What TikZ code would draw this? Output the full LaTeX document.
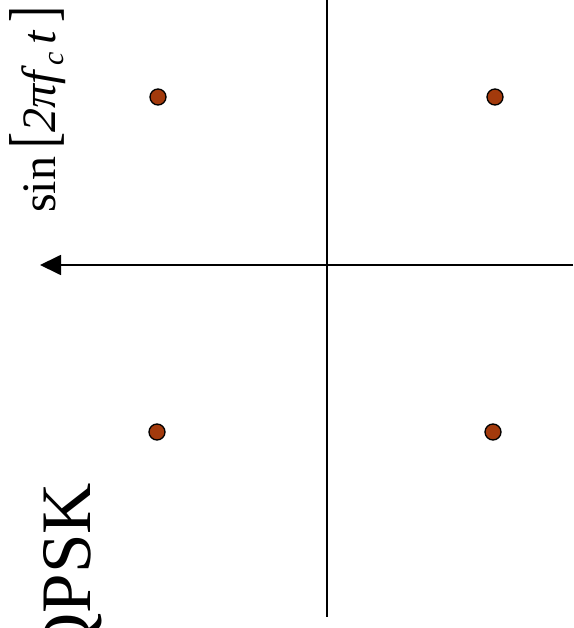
\documentclass[tikz,border=0pt]{standalone}
\usepackage{fontspec}
\setmainfont{Liberation Serif}
\usetikzlibrary{arrows.meta}
\definecolor{dotbrown}{RGB}{163,58,12}
\begin{document}
\begin{tikzpicture}[x=1pt,y=-1pt,
  axis/.style={line width=1.8pt,black},
  sym/.style={circle,draw=black,line width=1.3pt,fill=dotbrown,minimum size=16pt,inner sep=0pt},
  lbl/.style={rotate=90,inner sep=0pt}]
\useasboundingbox (0,0) rectangle (573,628);
\coordinate (vt) at (327,0);
\coordinate (vb) at (327,617);
\coordinate (hr) at (573,265);
\coordinate (hl) at (40,265);
\draw[axis] (vt) -- (vb);
\draw[axis,-{Triangle[length=21pt,width=20pt]}] (hr) -- (hl);
\node[sym] (s1) at (158,97) {};
\node[sym] (s2) at (495,97) {};
\node[sym] (s3) at (157,432) {};
\node[sym] (s4) at (493,432) {};
\node[lbl,anchor=base east] (sinlbl) at (55,6) {\fontsize{48}{58}\selectfont sin\,\scalebox{1}[1.38]{[}\textit{2πf}\raisebox{-8pt}{\fontsize{30}{36}\selectfont\textit{c}}\,\textit{t}\,\scalebox{1}[1.38]{]}};
\node[lbl,anchor=base east] (qpsk) at (90,483) {\fontsize{71}{80}\selectfont QPSK};
\end{tikzpicture}
\end{document}
